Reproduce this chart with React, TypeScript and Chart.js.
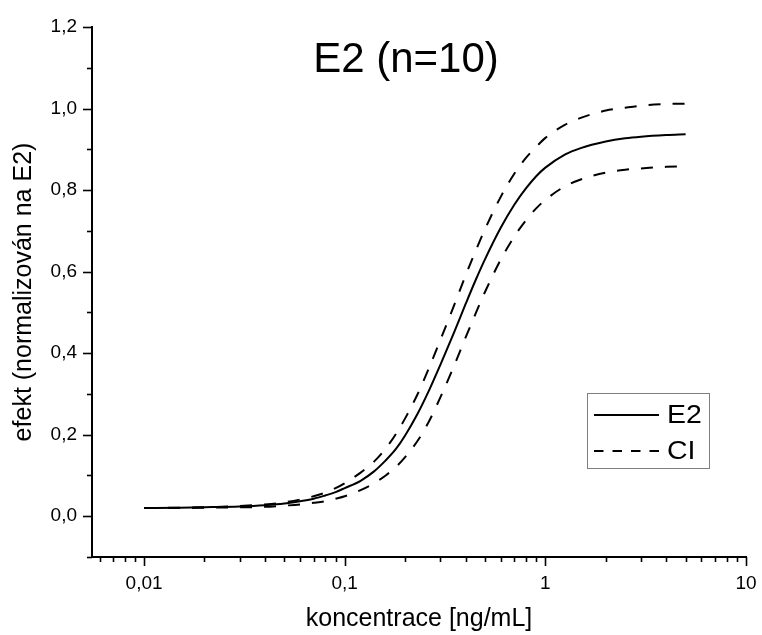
import { useEffect, useRef } from 'react';
import { Chart, registerables } from 'chart.js';

Chart.register(...registerables);

// Concentration grid (ng/mL) and fitted dose–response values
const concentration = [
  0.01, 0.015, 0.02, 0.03, 0.04, 0.05, 0.06, 0.07, 0.08, 0.09, 0.1, 0.12, 0.14, 0.16, 0.18, 0.2,
  0.23, 0.26, 0.3, 0.35, 0.4, 0.45, 0.5, 0.6, 0.7, 0.8, 0.9, 1, 1.25, 1.5, 2, 2.5, 3, 4, 5,
];

const e2Effect = [
  0.020, 0.021, 0.022, 0.024, 0.027, 0.031, 0.037, 0.043, 0.051, 0.059, 0.069, 0.087, 0.110, 0.137,
  0.165, 0.198, 0.250, 0.303, 0.372, 0.450, 0.520, 0.580, 0.630, 0.708, 0.764, 0.804, 0.834, 0.855,
  0.887, 0.903, 0.919, 0.927, 0.931, 0.935, 0.937,
];

const ciUpper = [
  0.020, 0.021, 0.022, 0.025, 0.029, 0.034, 0.041, 0.049, 0.058, 0.069, 0.081, 0.107, 0.134, 0.166,
  0.202, 0.240, 0.298, 0.358, 0.433, 0.516, 0.590, 0.652, 0.704, 0.784, 0.840, 0.879, 0.906, 0.928,
  0.960, 0.977, 0.995, 1.002, 1.007, 1.011, 1.012,
];

const ciLower = [
  0.020, 0.020, 0.021, 0.022, 0.023, 0.026, 0.029, 0.033, 0.037, 0.043, 0.049, 0.064, 0.081, 0.100,
  0.121, 0.145, 0.184, 0.228, 0.292, 0.368, 0.438, 0.498, 0.550, 0.630, 0.686, 0.726, 0.755, 0.776,
  0.809, 0.826, 0.843, 0.850, 0.853, 0.857, 0.858,
];

const xTickValues = [0.01, 0.1, 1, 10];
const yTickValues = [0, 0.2, 0.4, 0.6, 0.8, 1.0, 1.2];
const yMinorValues = [-0.1, 0.1, 0.3, 0.5, 0.7, 0.9, 1.1];

const chartTitle = 'E2 (n=10)';
const xTitle = 'koncentrace [ng/mL]';
const yTitle = 'efekt (normalizován na E2)';
const legendItems = [
  { label: 'E2', dash: [] as number[] },
  { label: 'CI', dash: [9.5, 9] },
];

const FONT = "'Liberation Sans', Arial, Helvetica, sans-serif";
const fmt = (v: number, digits: number) => v.toFixed(digits).replace('.', ',');

const toPoints = (ys: number[]) => concentration.map((x, i) => ({ x, y: ys[i] }));

// Outward major/minor tick marks, the title inside the plot and the boxed legend
const decorations = {
  id: 'decorations',
  afterDraw(chart: any) {
    const { ctx, chartArea, scales } = chart;
    const xs = scales.x;
    const ys = scales.y;
    ctx.save();
    ctx.strokeStyle = '#000';
    ctx.lineWidth = 1.6;

    // x ticks: majors at decades, minors at 2..9 of each decade
    const xMin = xs.min;
    const xMax = xs.max;
    for (let e = -3; e <= 1; e++) {
      for (let m = 1; m <= 9; m++) {
        const v = m * Math.pow(10, e);
        if (v < xMin * 0.999 || v > xMax * 1.001) continue;
        const px = Math.round(xs.getPixelForValue(v)) + 0.5;
        const len = m === 1 ? 9 : 5;
        ctx.beginPath();
        ctx.moveTo(px, chartArea.bottom);
        ctx.lineTo(px, chartArea.bottom + len);
        ctx.stroke();
      }
    }

    // y ticks
    const drawY = (v: number, len: number) => {
      const py = Math.round(ys.getPixelForValue(v)) + 0.5;
      ctx.beginPath();
      ctx.moveTo(chartArea.left, py);
      ctx.lineTo(chartArea.left - len, py);
      ctx.stroke();
    };
    yTickValues.forEach((v) => drawY(v, 9));
    yMinorValues.forEach((v) => drawY(v, 5));

    // chart title
    ctx.fillStyle = '#000';
    ctx.font = `42px ${FONT}`;
    ctx.textAlign = 'center';
    ctx.textBaseline = 'alphabetic';
    ctx.fillText(chartTitle, chartArea.left + 314, chartArea.top + 45);

    // legend box
    const bx = chartArea.left + 495;
    const by = chartArea.top + 366;
    const bw = 122;
    const bh = 75;
    ctx.strokeStyle = '#7f7f7f';
    ctx.lineWidth = 1;
    ctx.strokeRect(bx + 0.5, by + 0.5, bw, bh);

    ctx.strokeStyle = '#000';
    ctx.lineWidth = 2;
    ctx.font = `25px ${FONT}`;
    ctx.textAlign = 'left';
    ctx.textBaseline = 'middle';
    legendItems.forEach((item, i) => {
      const ly = by + 22 + i * 36;
      ctx.setLineDash(item.dash);
      ctx.beginPath();
      ctx.moveTo(bx + 7, ly);
      ctx.lineTo(bx + 72, ly);
      ctx.stroke();
      ctx.setLineDash([]);
      ctx.save();
      ctx.translate(bx + 80, ly + 1);
      ctx.scale(1.14, 1);
      ctx.fillText(item.label, 0, 0);
      ctx.restore();
    });
    ctx.restore();
  },
};

export default function App() {
  const canvasRef = useRef<HTMLCanvasElement | null>(null);

  useEffect(() => {
    const canvas = canvasRef.current;
    if (!canvas) return;

    const lineStyle = {
      borderColor: '#000',
      borderWidth: 2,
      pointRadius: 0,
      fill: false,
      cubicInterpolationMode: 'monotone' as const,
    };

    const chart = new Chart(canvas, {
      type: 'line',
      data: {
        datasets: [
          { label: 'CI upper', data: toPoints(ciUpper), ...lineStyle, borderDash: [12, 12] },
          { label: 'CI lower', data: toPoints(ciLower), ...lineStyle, borderDash: [12, 12] },
          { label: 'E2', data: toPoints(e2Effect), ...lineStyle },
        ],
      },
      options: {
        animation: false,
        responsive: false,
        events: [],
        layout: { padding: { top: 27, right: 16, left: 0, bottom: 0 } },
        plugins: {
          legend: { display: false },
          title: { display: false },
          tooltip: { enabled: false },
        },
        scales: {
          x: {
            type: 'logarithmic',
            position: 'bottom',
            min: 0.0055,
            max: 10,
            grid: { display: false, drawTicks: false },
            border: { display: true, color: '#000', width: 2 },
            afterBuildTicks: (scale: any) => {
              scale.ticks = xTickValues.map((value) => ({ value }));
            },
            afterFit: (scale: any) => {
              scale.height = 78;
              scale.paddingLeft = 0;
              scale.paddingRight = 0;
            },
            ticks: {
              autoSkip: false,
              maxRotation: 0,
              padding: 15,
              color: '#000',
              font: { family: FONT, size: 19 },
              callback: (v: any) => {
                const n = Number(v);
                return n >= 1 ? String(n) : fmt(n, Math.round(-Math.log10(n)));
              },
            },
            title: {
              display: true,
              text: xTitle,
              color: '#000',
              font: { family: FONT, size: 25 },
              padding: { top: 0, bottom: 1 },
            },
          },
          y: {
            type: 'linear',
            min: -0.1,
            max: 1.2,
            grid: { display: false, drawTicks: false },
            border: { display: true, color: '#000', width: 2 },
            afterBuildTicks: (scale: any) => {
              scale.ticks = yTickValues.map((value) => ({ value }));
            },
            afterFit: (scale: any) => {
              scale.width = 92;
              scale.paddingTop = 0;
              scale.paddingBottom = 0;
            },
            ticks: {
              autoSkip: false,
              padding: 15,
              color: '#000',
              font: { family: FONT, size: 19 },
              callback: (v: any) => fmt(Number(v), 1),
            },
            title: {
              display: true,
              text: yTitle,
              color: '#000',
              font: { family: FONT, size: 25 },
              padding: { top: 9, bottom: 0 },
            },
          },
        },
      },
      plugins: [decorations],
    });

    return () => chart.destroy();
  }, []);

  return (
    <div style={{ position: 'fixed', left: 0, top: 0, width: 762, height: 635, background: '#fff' }}>
      <canvas ref={canvasRef} width={762} height={635} style={{ display: 'block' }} />
    </div>
  );
}
